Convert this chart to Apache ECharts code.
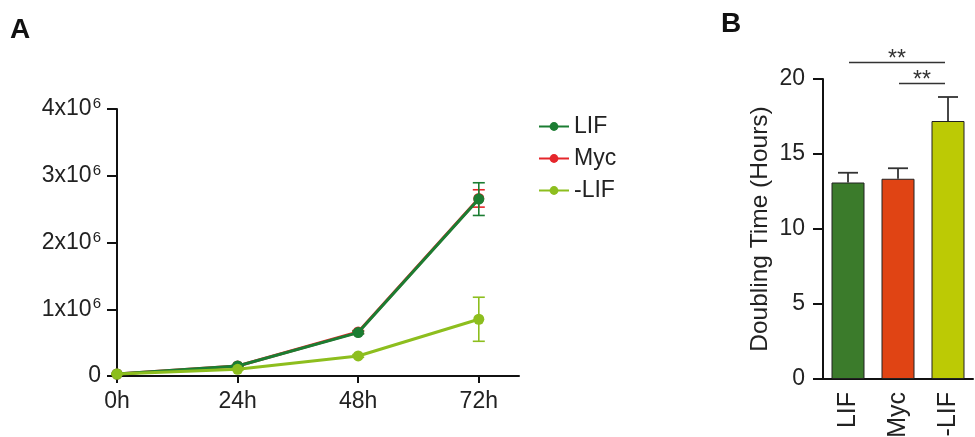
<!DOCTYPE html>
<html>
<head>
<meta charset="utf-8">
<script src="https://cdn.jsdelivr.net/npm/echarts@6/dist/echarts.min.js"></script>
<style>html,body{margin:0;padding:0;background:#fff;}#c{width:975px;height:437px;}</style>
</head>
<body>
<div id="c"></div>
<script>
// ---- Panel A data (cell number, in millions) ----
var hours = [0, 24, 48, 72];
var xTickLabels = ['0h', '24h', '48h', '72h'];
var lifValues = [0.03, 0.15, 0.65, 2.65];
var lifErr = [0.005, 0.01, 0.02, 0.245];
var mycValues = [0.03, 0.15, 0.66, 2.66];
var mycErr = [0.005, 0.01, 0.02, 0.13];
var minusLifValues = [0.03, 0.10, 0.30, 0.85];
var minusLifErr = [0.005, 0.01, 0.02, 0.33];

// ---- Panel B data (doubling time, hours) ----
var groups = ['LIF', 'Myc', '-LIF'];
var doublingTime = [13.1, 13.35, 17.2];
var doublingErr = [0.65, 0.7, 1.6];
var sigPairs = [[0, 2, 21.1, '**'], [1, 2, 19.7, '**']];

var cLIF = '#1b7d32', cMyc = '#e5262b', cMinus = '#8dbe1e';
var barColors = ['#3b7b2b', '#e04414', '#bcca05'];
var FONT = 'Liberation Sans, Arial, sans-serif';
var TXT = '#222';

function pts(vals) { return hours.map(function (h, i) { return [h, vals[i]]; }); }
function errData(vals, errs) { return hours.map(function (h, i) { return [h, vals[i], errs[i]]; }); }

function errorSeries(name, vals, errs, color, z) {
  return {
    type: 'custom', name: name + ' err', xAxisIndex: 0, yAxisIndex: 0, z: z,
    data: errData(vals, errs), silent: true,
    renderItem: function (params, api) {
      var x = api.value(0), y = api.value(1), e = api.value(2);
      var top = api.coord([x, y + e]), bot = api.coord([x, y - e]);
      var hw = 6;
      var st = { stroke: color, lineWidth: 1.6 };
      return { type: 'group', children: [
        { type: 'line', shape: { x1: top[0], y1: top[1], x2: bot[0], y2: bot[1] }, style: st },
        { type: 'line', shape: { x1: top[0] - hw, y1: top[1], x2: top[0] + hw, y2: top[1] }, style: st },
        { type: 'line', shape: { x1: bot[0] - hw, y1: bot[1], x2: bot[0] + hw, y2: bot[1] }, style: st }
      ] };
    }
  };
}

function lineSeries(name, vals, color, z) {
  return {
    type: 'line', name: name, xAxisIndex: 0, yAxisIndex: 0, z: z,
    data: pts(vals), symbol: 'circle', symbolSize: 11,
    lineStyle: { color: color, width: 3 }, itemStyle: { color: color }
  };
}

var option = {
  animation: false,
  textStyle: { fontFamily: FONT },
  title: [
    { text: 'A', left: 5, top: 11, textStyle: { fontSize: 28, fontWeight: 'bold', color: '#111', fontFamily: FONT } },
    { text: 'B', left: 716, top: 5, textStyle: { fontSize: 28, fontWeight: 'bold', color: '#111', fontFamily: FONT } }
  ],
  legend: {
    orient: 'vertical', left: 533, top: 110, itemGap: 9, itemWidth: 30, itemHeight: 11,
    data: ['LIF', 'Myc', '-LIF'],
    textStyle: { fontSize: 23, color: TXT, fontFamily: FONT }
  },
  grid: [
    { left: 117, top: 109, width: 402, height: 267, outerBoundsMode: 'none', containLabel: false },
    { left: 823, top: 79, width: 150, height: 300, outerBoundsMode: 'none', containLabel: false }
  ],
  xAxis: [
    {
      type: 'value', gridIndex: 0, min: 0, max: 80, interval: 24,
      axisLine: { lineStyle: { color: '#111', width: 2 } },
      axisTick: { show: true, length: 7, lineStyle: { color: '#111', width: 2 }, customValues: hours },
      axisLabel: { customValues: hours, fontSize: 23, color: TXT, margin: 14,
        formatter: function (v) { var i = hours.indexOf(v); return i >= 0 ? xTickLabels[i] : ''; } },
      splitLine: { show: false }
    },
    {
      type: 'category', gridIndex: 1, data: groups,
      axisLine: { lineStyle: { color: '#111', width: 2 } },
      axisTick: { alignWithLabel: true, length: 8, lineStyle: { color: '#111', width: 2 } },
      axisLabel: { rotate: 90, fontSize: 25, color: TXT, margin: 13 }
    }
  ],
  yAxis: [
    {
      type: 'value', gridIndex: 0, min: 0, max: 4, interval: 1,
      axisLine: { show: true, lineStyle: { color: '#111', width: 2 } },
      axisTick: { show: true, length: 10, lineStyle: { color: '#111', width: 2 } },
      splitLine: { show: false },
      axisLabel: {
        margin: 16, color: TXT,
        formatter: function (v) { return v === 0 ? '{n|0}' : '{n|' + v + 'x10}{s|6}'; },
        rich: { n: { fontSize: 23, color: TXT, fontFamily: FONT }, s: { fontSize: 15, color: TXT, fontFamily: FONT, padding: [0, 0, 10, 1] } }
      }
    },
    {
      type: 'value', gridIndex: 1, min: 0, max: 20, interval: 5,
      name: 'Doubling Time (Hours)', nameLocation: 'middle', nameGap: 50,
      nameTextStyle: { fontSize: 24.5, color: TXT, fontFamily: FONT },
      axisLine: { show: true, lineStyle: { color: '#111', width: 2 } },
      axisTick: { show: true, length: 10, lineStyle: { color: '#111', width: 2 } },
      splitLine: { show: false },
      axisLabel: { fontSize: 23, color: TXT, margin: 18 }
    }
  ],
  series: [
    errorSeries('Myc', mycValues, mycErr, cMyc, 2),
    lineSeries('Myc', mycValues, cMyc, 3),
    errorSeries('LIF', lifValues, lifErr, cLIF, 4),
    lineSeries('LIF', lifValues, cLIF, 5),
    errorSeries('-LIF', minusLifValues, minusLifErr, cMinus, 6),
    lineSeries('-LIF', minusLifValues, cMinus, 7),
    {
      type: 'bar', xAxisIndex: 1, yAxisIndex: 1, barWidth: 33,
      data: doublingTime.map(function (v, i) { return { value: v, itemStyle: { color: barColors[i] } }; }),
      itemStyle: { borderColor: '#222', borderWidth: 1 }, z: 2
    },
    {
      type: 'custom', xAxisIndex: 1, yAxisIndex: 1, z: 1, silent: true,
      data: doublingTime.map(function (v, i) { return [i, v, doublingErr[i]]; }),
      renderItem: function (params, api) {
        var i = api.value(0), v = api.value(1), e = api.value(2);
        var base = api.coord([i, v]), top = api.coord([i, v + e]);
        var st = { stroke: '#333', lineWidth: 1.8 };
        return { type: 'group', children: [
          { type: 'line', shape: { x1: base[0], y1: base[1], x2: top[0], y2: top[1] }, style: st },
          { type: 'line', shape: { x1: top[0] - 10, y1: top[1], x2: top[0] + 10, y2: top[1] }, style: st }
        ] };
      }
    },
    {
      type: 'custom', xAxisIndex: 1, yAxisIndex: 1, z: 3, silent: true, clip: false,
      data: sigPairs.map(function (p) { return [p[0], p[1], p[2]]; }),
      renderItem: function (params, api) {
        var a = api.coord([api.value(0), api.value(2)]), b = api.coord([api.value(1), api.value(2)]);
        var x1 = a[0] + 1, x2 = b[0] - 3;
        return { type: 'group', children: [
          { type: 'line', shape: { x1: x1, y1: a[1], x2: x2, y2: a[1] }, style: { stroke: '#333', lineWidth: 1.3 } },
          { type: 'text', style: { text: sigPairs[params.dataIndex][3], x: (x1 + x2) / 2, y: a[1] + 9, align: 'center', verticalAlign: 'bottom', fontSize: 23, fill: '#333', fontFamily: FONT } }
        ] };
      }
    }
  ]
};
var chart = echarts.init(document.getElementById('c'), null, { renderer: 'canvas' });
chart.setOption(option);
</script>
</body>
</html>
